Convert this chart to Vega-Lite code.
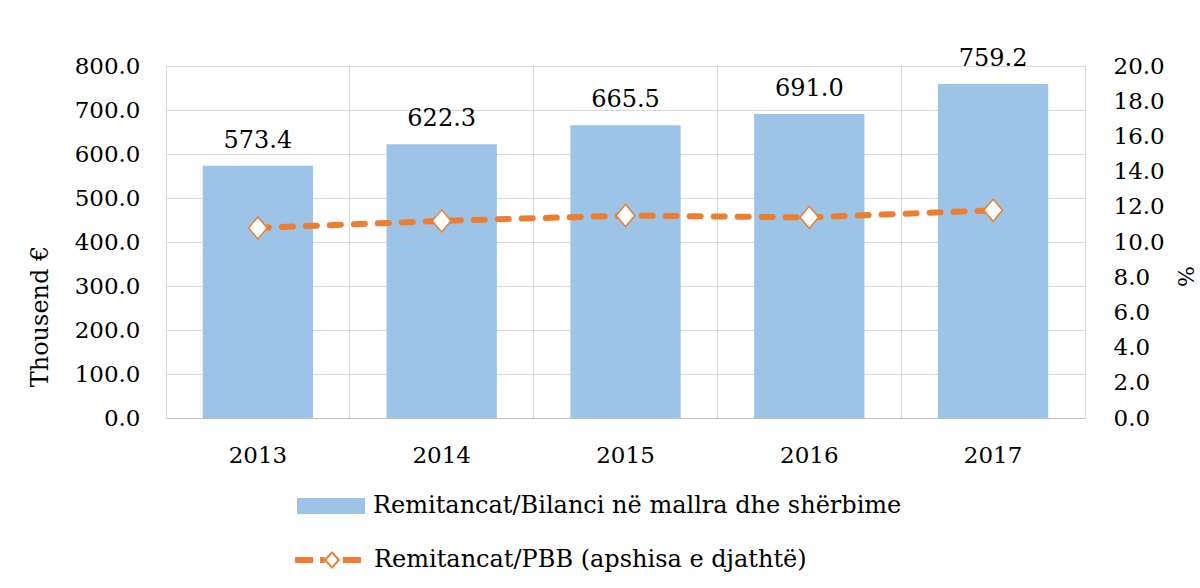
{
  "$schema": "https://vega.github.io/schema/vega-lite/v6.json",
  "autosize": "none",
  "width": 919,
  "height": 352,
  "padding": {"left": 166, "top": 66, "right": 115, "bottom": 170},
  "background": "white",
  "config": {
    "view": {"stroke": "#D9D9D9", "strokeWidth": 1},
    "font": "DejaVu Serif",
    "axis": {"labelFont": "DejaVu Serif", "titleFont": "DejaVu Serif", "labelColor": "#000000", "titleColor": "#000000", "labelOverlap": false},
    "legend": {"labelFont": "DejaVu Serif", "labelColor": "#000000"}
  },
  "data": {
    "values": [
      {"year": "2013", "rem": 573.4, "pct": 10.8},
      {"year": "2014", "rem": 622.3, "pct": 11.2},
      {"year": "2015", "rem": 665.5, "pct": 11.5},
      {"year": "2016", "rem": 691.0, "pct": 11.4},
      {"year": "2017", "rem": 759.2, "pct": 11.8}
    ]
  },
  "encoding": {
    "x": {
      "field": "year",
      "type": "ordinal",
      "scale": {"paddingInner": 0, "paddingOuter": 0},
      "axis": {
        "title": null,
        "labelAngle": 0,
        "labelFontSize": 23,
        "labelPadding": 26,
        "ticks": false,
        "grid": true,
        "bandPosition": 0,
        "gridColor": "#D9D9D9",
        "domainColor": "#BFBFBF"
      }
    }
  },
  "layer": [
    {
      "encoding": {
        "y": {
          "field": "rem",
          "type": "quantitative",
          "scale": {"domain": [0, 800], "nice": false},
          "axis": {
            "orient": "left",
            "values": [0, 100, 200, 300, 400, 500, 600, 700, 800],
            "format": ".1f",
            "labelFontSize": 23,
            "labelPadding": 26,
            "labelOverlap": false,
            "ticks": false,
            "domain": false,
            "grid": true,
            "gridColor": "#D9D9D9",
            "title": "Thousend €",
            "titleFontSize": 24,
            "titleFontWeight": "normal",
            "titlePadding": 22,
            "titleY": 250
          }
        }
      },
      "layer": [
        {
          "mark": {"type": "bar", "width": {"band": 0.6}},
          "encoding": {
            "fill": {
              "datum": "Remitancat/Bilanci në mallra dhe shërbime",
              "scale": {"range": ["#9DC3E6"]},
              "legend": {
                "title": null,
                "orient": "none",
                "legendX": 131,
                "legendY": 406,
                "padding": 0,
                "symbolType": "M-1,-0.235H1V0.235H-1Z",
                "symbolSize": 4624,
                "symbolStrokeWidth": 0,
                "labelFontSize": 24,
                "labelOffset": 8,
                "labelLimit": 800
              }
            }
          }
        },
        {
          "mark": {"type": "text", "baseline": "alphabetic", "dy": -18, "fontSize": 24, "color": "#000000"},
          "encoding": {
            "text": {"field": "rem", "type": "quantitative", "format": ".1f"}
          }
        }
      ]
    },
    {
      "encoding": {
        "y": {
          "field": "pct",
          "type": "quantitative",
          "scale": {"domain": [0, 20], "nice": false},
          "axis": {
            "orient": "right",
            "values": [0, 2, 4, 6, 8, 10, 12, 14, 16, 18, 20],
            "tickCount": 11,
            "format": ".1f",
            "labelFontSize": 23,
            "labelPadding": 28,
            "labelOverlap": false,
            "labelBound": false,
            "ticks": false,
            "domain": false,
            "grid": false,
            "title": "%",
            "titleFontSize": 22,
            "titleFontWeight": "normal",
            "titlePadding": 8,
            "titleY": 210
          }
        }
      },
      "layer": [
        {
          "mark": {"type": "line", "strokeWidth": 6, "strokeDash": [11, 13], "strokeCap": "round"},
          "encoding": {
            "stroke": {
              "datum": "Remitancat/PBB (apshisa e djathtë)",
              "scale": {"range": ["#ED7D31"]},
              "legend": {
                "title": null,
                "orient": "none",
                "legendX": 128,
                "legendY": 460,
                "padding": 0,
                "symbolType": "M-1,-0.06H-0.45M-1,0H-0.45M-1,0.06H-0.45M-0.24,-0.06H-0.1M-0.24,0H-0.1M-0.24,0.06H-0.1M0.45,-0.06H1M0.45,0H1M0.45,0.06H1M0.12,-0.23L0.33,0L0.12,0.23L-0.09,0Z",
                "symbolSize": 4356,
                "symbolStrokeWidth": 2,
                "symbolFillColor": "white",
                "symbolDash": [],
                "labelFontSize": 24,
                "labelOffset": 12,
                "labelLimit": 800
              }
            }
          }
        },
        {
          "mark": {"type": "point", "shape": "M0,-1L0.85,0L0,1L-0.85,0Z", "size": 484, "filled": true, "fill": "white", "stroke": "#ED7D31", "strokeWidth": 1.5, "opacity": 1}
        }
      ]
    }
  ],
  "resolve": {"scale": {"y": "independent"}}
}
